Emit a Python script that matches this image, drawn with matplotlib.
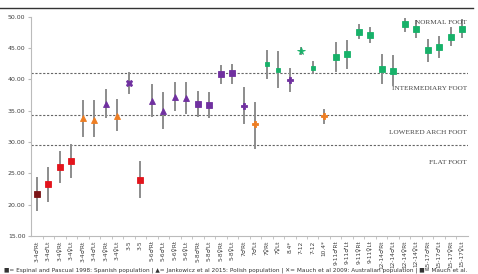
import numpy as np
import matplotlib.pyplot as plt
from matplotlib.lines import Line2D

# category labels along the x axis
labels = ["3-4♂Rt", "3-4♂Lt", "3-4♀Rt", "3-4♀Lt", "3-4♂Rt", "3-4♂Lt", "3-4♀Rt", "3-4♀Lt",
          "3-5", "3-5", "5-6♂Rt", "5-6♂Lt", "5-6♀Rt", "5-6♀Lt", "5-8♂Rt", "5-8♂Lt",
          "5-8♀Rt", "5-8♀Lt", "7♂Rt", "7♂Lt", "7♀Rt", "7♀Lt", "8.4*", "7-12", "7-12", "10.4*",
          "9-11♂Rt", "9-11♂Lt", "9-11♀Rt", "9-11♀Lt", "12-14♂Rt", "12-14♂Lt", "12-14♀Rt",
          "12-14♀Lt", "15-17♂Rt", "15-17♂Lt", "15-17♀Rt", "15-17♀Lt"]

# mean values and error bar ends
means = [21.7, 23.3, 26.1, 27.0, 33.8, 33.6, 36.1, 34.2, 39.4, 24.0,
         36.6, 35.0, 37.2, 37.0, 36.1, 35.9, 40.8, 41.0, 35.8, 32.9,
         42.5, 41.5, 39.9, 44.5, 41.8, 34.2, 43.6, 44.0, 47.6, 47.1,
         41.7, 41.4, 48.8, 48.1, 44.7, 45.2, 46.8, 48.1]
upper = [24.2, 25.9, 28.5, 29.5, 36.6, 36.6, 38.3, 36.7, 41.0, 26.8,
         39.1, 37.8, 39.5, 39.5, 38.0, 37.8, 42.1, 42.3, 38.6, 36.2,
         44.5, 44.3, 41.7, 45.0, 42.7, 35.2, 45.8, 46.1, 48.6, 48.2,
         43.9, 43.7, 49.7, 49.3, 46.3, 46.7, 48.2, 49.5]
lower = [19.2, 20.6, 23.6, 24.5, 31.0, 30.9, 34.0, 31.9, 37.9, 21.2,
         34.2, 32.2, 35.1, 34.6, 34.2, 34.0, 39.4, 39.5, 33.0, 29.1,
         40.3, 38.8, 38.2, 44.1, 41.0, 33.1, 41.4, 41.8, 46.6, 45.9,
         39.5, 39.1, 47.7, 46.8, 43.0, 43.6, 45.5, 46.7]

# marker style per point
colors = ["#7b1416"] + ["#e3141c"] * 3 + ["#ee7d22", "#ee7d22", "#7030a0", "#ee7d22", "#7030a0", "#e3141c"] \
    + ["#7030a0"] * 8 + ["#7030a0", "#ee7d22", "#17b169", "#17b169", "#7030a0", "#17b169", "#17b169", "#ee7d22"] \
    + ["#17b169"] * 12
markers = ["s"] * 4 + ["^", "^", "^", "^", "X", "s"] + ["^"] * 4 + ["s"] * 4 \
    + ["P", "P", "s", "s", "P", "*", "s", "P"] + ["s"] * 12
sizes = [4] * 8 + [4.5, 4] + [4] * 8 + [3.8, 3.8, 3.2, 3.2, 3.8, 5.5, 3.2, 3.8] + [4] * 12

# reference thresholds
thresholds = [41.0, 34.3, 29.5]
zone_names = ["NORMAL FOOT", "INTERMEDIARY FOOT", "LOWERED ARCH FOOT", "FLAT FOOT"]
zone_y = [49.0, 38.6, 31.6, 26.8]

fig = plt.figure(figsize=(4.78, 2.74), dpi=100)
ax = fig.add_axes([0.065, 0.138, 0.914, 0.801])

x = np.arange(len(labels))
for i in x:
    ax.plot([i, i], [lower[i], upper[i]], color="#8c8c8c", lw=1.4, zorder=2)
    ax.plot(i, means[i], marker=markers[i], color=colors[i], ms=sizes[i],
            markeredgewidth=0.6, markeredgecolor=colors[i], ls="none", zorder=3)

for t in thresholds:
    ax.axhline(t, color="#666666", lw=0.8, ls=(0, (2, 1.5)), zorder=1)

for name, yy in zip(zone_names, zone_y):
    ax.text(37.4, yy, name, ha="right", va="center", fontsize=5.2,
            family="Liberation Serif", color="#444444")

ax.set_xlim(-0.5, len(labels) - 0.5)
ax.set_ylim(15, 50)
ax.set_yticks(np.arange(15, 51, 5))
ax.set_yticklabels([f"{v:.2f}" for v in np.arange(15, 51, 5)], fontsize=4.5, color="#404040")
ax.set_xticks(x)
ax.set_xticklabels(labels, rotation=90, fontsize=4.2, color="#404040")
ax.set_xticks(x[:-1] + 0.5, minor=True)
ax.tick_params(axis="x", which="major", length=0, pad=3)
ax.tick_params(axis="x", which="minor", length=2, color="#bbbbbb")
ax.tick_params(axis="y", length=2, color="#bbbbbb", pad=2)
for s in ["top", "right"]:
    ax.spines[s].set_visible(False)
for s in ["left", "bottom"]:
    ax.spines[s].set_color("#bbbbbb")
    ax.spines[s].set_linewidth(0.8)

# frame line from the original figure
fig.add_artist(Line2D([0, 0.99], [0.97, 0.97], color="#333333", lw=1.0, transform=fig.transFigure))

fig.text(0.008, 0.003, "■= Espinal and Pascual 1998: Spanish population | ▲= Jankowicz et al 2015: Polish population"
         " | ✕= Mauch et al 2009: Australian population | ■= Mauch et al.",
         fontsize=4.15, color="#333333", va="bottom")

fig.savefig("out.png", dpi=100)
